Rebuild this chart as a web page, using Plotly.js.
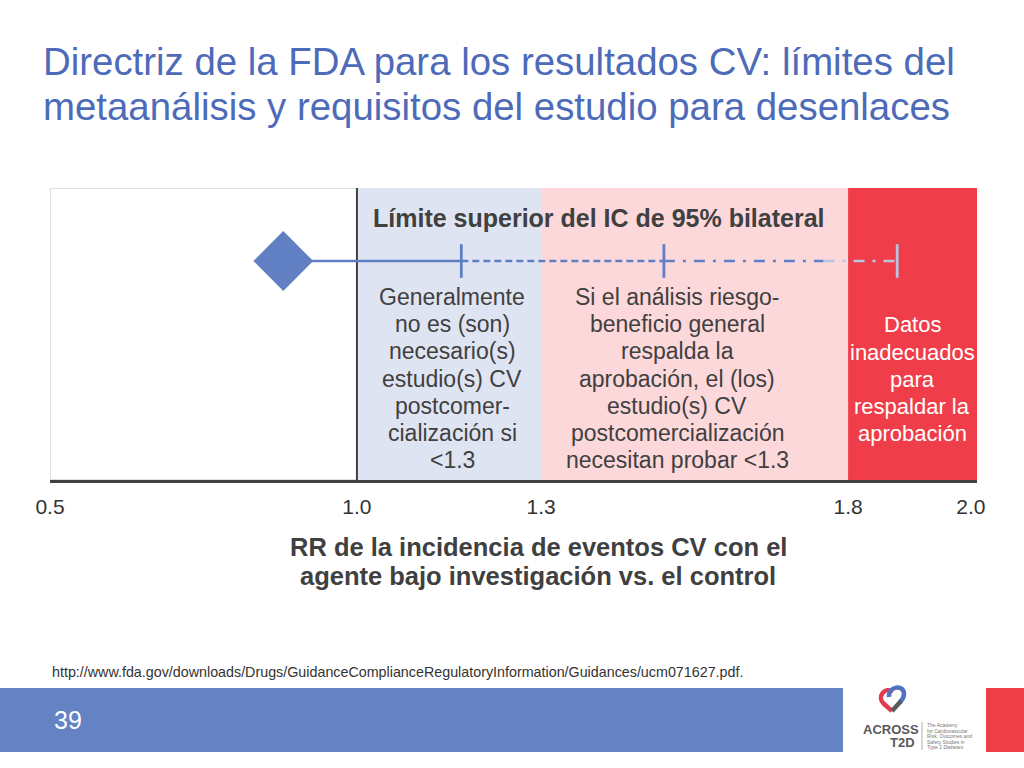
<!DOCTYPE html>
<html>
<head>
<meta charset="utf-8">
<script src="https://cdn.plot.ly/plotly-3.0.1.min.js"></script>
<style>
  html, body { margin: 0; padding: 0; background: #fff; }
  #chart { width: 1024px; height: 768px; }
</style>
</head>
<body>
<div id="chart"></div>
<script>
// values
var tickValues = [0.5, 1.0, 1.3, 1.8, 2.0];
var tickLabels = ['0.5', '1.0', '1.3', '1.8', '2.0'];
var bandStarts = [1.0, 1.3, 1.8];
var bandEnds = [1.3, 1.8, 2.01];
var pointEstimate = 0.88;
var ciLimits = [1.17, 1.5, 1.88];
var fadeStart = 1.76;
var ciLevel = 0.75;

var titleLines = ['Directriz de la FDA para los resultados CV: límites del', 'metaanálisis y requisitos del estudio para desenlaces'];
var blueLines = ['Generalmente', 'no es (son)', 'necesario(s)', 'estudio(s) CV', 'postcomer-', 'cialización si', '&lt;1.3'];
var pinkLines = ['Si el análisis riesgo-', 'beneficio general', 'respalda la', 'aprobación, el (los)', 'estudio(s) CV', 'postcomercialización', 'necesitan probar &lt;1.3'];
var redLines = ['Datos', 'inadecuados', 'para', 'respaldar la', 'aprobación'];
var axisTitleLines = ['RR de la incidencia de eventos CV con el', 'agente bajo investigación vs. el control'];
var logoLines = ['The Academy', 'for Cardiovascular', 'Risk, Outcomes and', 'Safety Studies in', 'Type 2 Diabetes'];

var W = 1024, H = 768;
var FONT = '"Liberation Sans", Arial, sans-serif';
var BLUE = '#5f7fc4';
var FADE = '#b9c4e0';

function px(x) { return x / W; }
function py(y) { return 1 - y / H; }
function pt(x, y) { return px(x).toFixed(4) + ',' + py(y).toFixed(4); }

var traces = [
  { x: [pointEstimate, ciLimits[0]], y: [ciLevel, ciLevel], mode: 'lines',
    line: { color: BLUE, width: 2.5 } },
  { x: [ciLimits[0], ciLimits[1]], y: [ciLevel, ciLevel], mode: 'lines',
    line: { color: BLUE, width: 2.5, dash: '7px,4px' } },
  { x: [ciLimits[1], fadeStart], y: [ciLevel, ciLevel], mode: 'lines',
    line: { color: BLUE, width: 2.5, dash: '11px,8px,3px,8px' } },
  { x: [fadeStart, ciLimits[2]], y: [ciLevel, ciLevel], mode: 'lines',
    line: { color: FADE, width: 2.5, dash: '11px,8px,3px,8px' } },
  { x: ciLimits, y: ciLimits.map(function () { return ciLevel; }), mode: 'markers',
    marker: { symbol: 'line-ns-open', size: 24, color: [BLUE, BLUE, FADE],
      line: { width: 2.8 } } },
  { x: [pointEstimate], y: [ciLevel], mode: 'markers',
    marker: { symbol: 'diamond', size: 46, color: '#6180c4', line: { width: 0 } } }
];

var bandColors = ['#dfe4f2', '#fcd8db', '#ef3e4a'];

var shapes = [
  { type: 'rect', xref: 'x', yref: 'y', x0: 0.5, x1: 2.01, y0: 0, y1: 1,
    line: { color: '#d6d6d6', width: 1.5 }, fillcolor: 'rgba(0,0,0,0)', layer: 'below' }
];
bandStarts.forEach(function (s, i) {
  shapes.push({ type: 'rect', xref: 'x', yref: 'y', x0: s, x1: bandEnds[i], y0: 0, y1: 1,
    line: { width: 0 }, fillcolor: bandColors[i], layer: 'below' });
});
shapes.push({ type: 'line', xref: 'x', yref: 'y', x0: 1.0, x1: 1.0, y0: 0, y1: 1,
  line: { color: '#404040', width: 2 }, layer: 'below' });

// footer
shapes.push({ type: 'rect', xref: 'paper', yref: 'paper', x0: 0, x1: px(843), y0: py(752), y1: py(688),
  line: { width: 0 }, fillcolor: '#6482c4' });
shapes.push({ type: 'rect', xref: 'paper', yref: 'paper', x0: px(986), x1: 1, y0: py(752), y1: py(688),
  line: { width: 0 }, fillcolor: '#ee3e48' });
// logo emblem
shapes.push({ type: 'path', xref: 'paper', yref: 'paper', layer: 'above',
  path: 'M ' + pt(893, 692) + ' C ' + pt(885, 686) + ' ' + pt(876, 697) + ' ' + pt(884, 704) + ' L ' + pt(892, 711),
  line: { color: '#e33a4c', width: 4.5 } });
shapes.push({ type: 'path', xref: 'paper', yref: 'paper', layer: 'above',
  path: 'M ' + pt(889, 697) + ' C ' + pt(888, 686) + ' ' + pt(904, 684) + ' ' + pt(904, 694) + ' C ' + pt(904, 697) + ' ' + pt(902, 700) + ' ' + pt(900, 702),
  line: { color: '#4f73c0', width: 4.5 } });
shapes.push({ type: 'path', xref: 'paper', yref: 'paper', layer: 'above',
  path: 'M ' + pt(901, 701) + ' L ' + pt(892, 711),
  line: { color: '#58595b', width: 4.5 } });
shapes.push({ type: 'line', xref: 'paper', yref: 'paper', x0: px(922), x1: px(922), y0: py(750), y1: py(722),
  line: { color: '#9a9a9a', width: 0.8 } });

var annotations = [];
function label(text, x, y, opts) {
  var a = { text: text, x: px(x), y: py(y), xref: 'paper', yref: 'paper', showarrow: false,
    xanchor: 'center', yanchor: 'middle', font: { family: FONT, size: 20, color: '#404040' } };
  for (var k in opts) {
    if (k === 'font') { for (var f in opts.font) a.font[f] = opts.font[f]; }
    else a[k] = opts[k];
  }
  annotations.push(a);
}
function block(lines, cx, firstY, step, opts) {
  lines.forEach(function (t, i) { label(t, cx, firstY + i * step, opts); });
}

block(titleLines, 41, 62, 44, { xanchor: 'left', font: { size: 38.4, color: '#4d6bb8' } });

label('<b>Límite superior del IC de 95% bilateral</b>', 599, 218, { font: { size: 25 } });
block(blueLines, 452, 297, 27.2, { font: { size: 23 } });
block(pinkLines, 677, 297, 27.2, { font: { size: 23 } });
block(redLines, 912, 325, 27.2, { font: { size: 22, color: '#ffffff' } });

block(axisTitleLines.map(function (t) { return '<b>' + t + '</b>'; }), 538, 547, 29, { font: { size: 25.5 } });

label('http://www.fda.gov/downloads/Drugs/GuidanceComplianceRegulatoryInformation/Guidances/ucm071627.pdf.',
  50, 672, { xanchor: 'left', font: { size: 14.3, color: '#333333' } });
label('39', 52, 720, { xanchor: 'left', font: { size: 25, color: '#ffffff' } });

label('<b>ACROSS</b>', 891, 729, { font: { size: 13, color: '#58595b' } });
label('<b>T2D</b>', 917, 742, { xanchor: 'right', font: { size: 13, color: '#58595b' } });
block(logoLines, 925, 725, 5.6, { xanchor: 'left', font: { size: 5, color: '#777777' } });

var layout = {
  width: W, height: H,
  margin: { l: 0, r: 0, t: 0, b: 0 },
  paper_bgcolor: '#ffffff', plot_bgcolor: 'rgba(0,0,0,0)',
  showlegend: false, hovermode: false,
  xaxis: {
    domain: [px(50), px(977)], range: [0.5, 2.01],
    tickvals: tickValues, ticktext: tickLabels,
    ticks: '', ticklabelstandoff: 6,
    tickfont: { family: FONT, size: 21, color: '#333333' },
    showline: true, linecolor: '#404040', linewidth: 2.5,
    showgrid: false, zeroline: false, fixedrange: true
  },
  yaxis: {
    domain: [py(480), py(188)], range: [0, 1],
    visible: false, fixedrange: true
  },
  shapes: shapes,
  annotations: annotations
};

Plotly.newPlot('chart', traces, layout, { staticPlot: true, displayModeBar: false });
</script>
</body>
</html>
